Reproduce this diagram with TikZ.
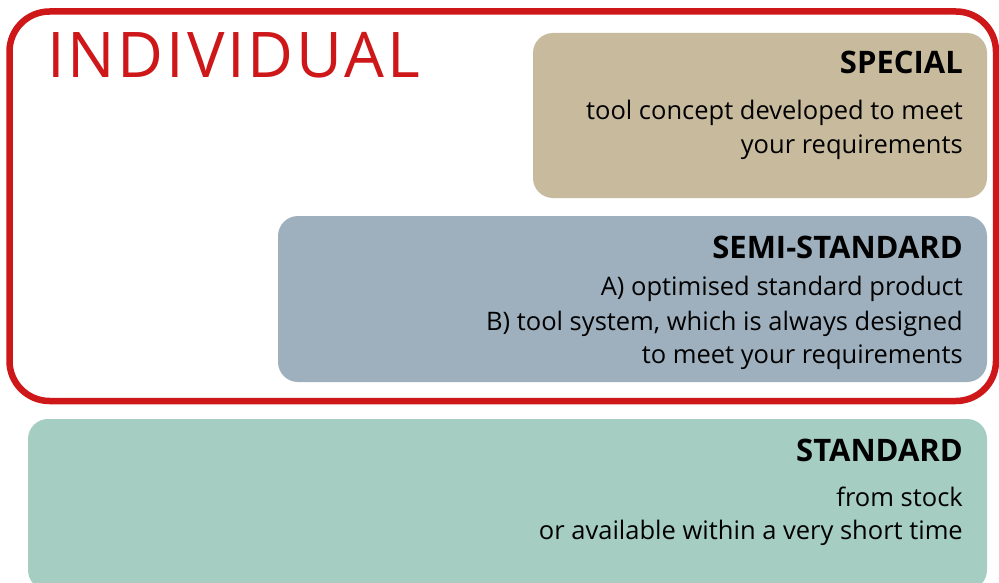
\documentclass[tikz,border=0pt]{standalone}
\usepackage{fontspec}
\setmainfont{Open Sans}
\definecolor{indred}{HTML}{CD1719}
\definecolor{specialc}{HTML}{C8BA9D}
\definecolor{semic}{HTML}{9EB0BE}
\definecolor{standc}{HTML}{A5CDC2}
\begin{document}
\begin{tikzpicture}[x=1pt,y=-1pt,
  panel/.style={rounded corners=20pt,inner sep=0pt,outer sep=0pt},
  head/.style={anchor=base east,inner sep=0pt,font=\fontsize{31}{31}\selectfont\bfseries},
  body/.style={anchor=base east,inner sep=0pt,font=\fontsize{25.5}{25.5}\selectfont}]
\useasboundingbox (0,0) rectangle (999,583);
\clip (0,0) rectangle (999,583);
\fill[white] (0,0) rectangle (999,583);
% boxes
\node[panel,fill=specialc,minimum width=454pt,minimum height=165pt] (special) at (760,115.5) {};
\node[panel,fill=semic,minimum width=709pt,minimum height=166pt] (semi) at (632.5,299) {};
\node[panel,fill=standc,minimum width=959pt,minimum height=171pt] (stand) at (507.5,504.5) {};
% frame
\node[draw=indred,line width=6.5pt,rounded corners=40pt,minimum width=986.5pt,minimum height=389.5pt,inner sep=0pt] (frame) at (502.75,206.25) {};
% texts
\node[anchor=base west,inner sep=0pt,text=indred,font=\fontsize{63}{63}\selectfont\addfontfeature{LetterSpace=4.5}] (ind) at (47,78) {INDIVIDUAL};
\node[head] (sp) at (963,74) {SPECIAL};
\node[body] (sp1) at (963,120) {tool concept developed to meet};
\node[body] (sp2) at (963,154) {your requirements};
\node[head] (se) at (963,258) {SEMI-STANDARD};
\node[body] (se1) at (963,295) {A) optimised standard product};
\node[body] (se2) at (963,330) {B) tool system, which is always designed};
\node[body] (se3) at (963,363) {to meet your requirements};
\node[head] (st) at (963,461) {STANDARD};
\node[body] (st1) at (963,506) {from stock};
\node[body] (st2) at (963,539) {or available within a very short time};
\end{tikzpicture}
\end{document}
